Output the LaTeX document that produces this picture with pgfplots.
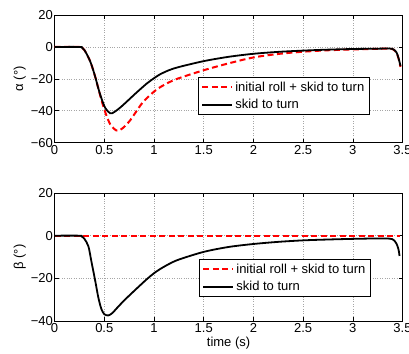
\documentclass[border=0pt]{standalone}
\usepackage{pgfplots}
\pgfplotsset{compat=1.18}
\usepackage{fontspec}
\setmainfont{Liberation Sans}
\newcommand{\fs}{\fontsize{13bp}{15bp}\selectfont}
\pgfplotsset{
  mystyle/.style={
    width=347.9bp, height=127.7bp, scale only axis,
    xmin=0, xmax=3.5,
    xtick={0,0.5,1,1.5,2,2.5,3,3.5},
    xticklabels={0,0.5,1,1.5,2,2.5,3,3.5},
    tick align=inside,
    major tick length=4bp,
    grid=major,
    major grid style={dotted, line width=0.6bp, gray!70},
    axis line style={line width=0.8bp, black},
    tick style={black, line width=0.6bp},
    tick label style={font=\fs},
    label style={font=\fs},
    yticklabel style={inner xsep=1.5bp},
    xticklabel style={inner ysep=2.5bp},
    legend cell align=left,
    legend style={font=\fs, draw=black, line width=0.8bp, anchor=north west,
      row sep=2.5bp, inner xsep=3bp, inner ysep=2.5bp},
    legend image code/.code={\draw[#1] plot coordinates {(0bp,0bp) (30bp,0bp)};},
  },
  redd/.style={color=red, line width=2bp, dash pattern=on 6bp off 3.5bp},
  blk/.style={color=black, line width=1.8bp},
}
\begin{document}
\begin{tikzpicture}
\path[use as bounding box] (-54.6bp,-211.3bp) rectangle (354.4bp,142.7bp);
\begin{axis}[mystyle, at={(0bp,0bp)}, anchor=south west,
  ymin=-60, ymax=20, ytick={-60,-40,-20,0,20},
  yticklabels={−60,−40,−20,0,20},
  ylabel={α (°)},
  legend style={at={(0.412,0.514)}}]
\addplot[redd, smooth] coordinates {
(0,0)(0.25,0)(0.27,-0.3)(0.30,-2)(0.34,-6.5)(0.37,-11)(0.41,-19)(0.44,-26)(0.47,-33)(0.51,-41)(0.56,-48.5)(0.62,-52.3)(0.66,-52)(0.71,-49.5)(0.76,-46)(0.81,-41.5)(0.89,-34.5)(1.0,-28)(1.06,-25.3)(1.15,-22.2)(1.25,-19.6)(1.5,-14.6)(1.75,-10.3)(2.0,-6.6)(2.25,-4.4)(2.5,-3)(2.75,-2.1)(3.0,-1.6)(3.25,-1.2)(3.37,-1.1)(3.41,-1.7)(3.44,-3.7)(3.46,-7.2)(3.48,-12.5)};
\addlegendentry{initial roll + skid to turn}
\addplot[blk, smooth] coordinates {
(0,0)(0.25,0)(0.27,-0.3)(0.30,-2)(0.34,-6.5)(0.37,-11)(0.41,-19)(0.44,-26)(0.47,-32)(0.51,-38.3)(0.56,-41.6)(0.60,-40.8)(0.66,-38)(0.71,-35.2)(0.76,-32.3)(0.81,-29.4)(0.86,-26.6)(0.93,-22.8)(1.0,-19.6)(1.06,-17.2)(1.15,-14.6)(1.25,-12.6)(1.5,-8.9)(1.75,-6.2)(2.0,-4.3)(2.25,-3.1)(2.5,-2.3)(2.75,-1.7)(3.0,-1.3)(3.25,-1.1)(3.37,-1.0)(3.41,-1.6)(3.44,-3.5)(3.46,-7)(3.48,-12)};
\addlegendentry{skid to turn}
\end{axis}
\begin{axis}[mystyle, at={(0bp,-178.3bp)}, anchor=south west, height=128bp,
  ymin=-40, ymax=20, ytick={-40,-20,0,20},
  yticklabels={−40,−20,0,20},
  ylabel={β (°)}, xlabel={time (s)},
  xlabel style={inner ysep=1bp},
  legend style={at={(0.415,0.484)}}]
\addplot[redd] coordinates {(0,0)(1,0)(2,0)(3.47,0)};
\addlegendentry{initial roll + skid to turn}
\addplot[blk, smooth] coordinates {
(0,0)(0.25,0)(0.27,-0.3)(0.30,-1.5)(0.34,-5)(0.37,-12)(0.41,-21.5)(0.44,-29)(0.47,-34.3)(0.50,-36.8)(0.54,-37.4)(0.58,-36.3)(0.62,-34.3)(0.67,-31.8)(0.73,-29)(0.83,-24.6)(0.93,-20.3)(1.0,-17.6)(1.06,-15.7)(1.15,-13.3)(1.25,-11.2)(1.5,-7.6)(1.75,-5.3)(2.0,-3.9)(2.25,-2.9)(2.5,-2.2)(2.75,-1.8)(3.0,-1.5)(3.25,-1.3)(3.37,-1.4)(3.41,-2)(3.44,-3.8)(3.46,-6.5)(3.47,-9.5)};
\addlegendentry{skid to turn}
\end{axis}
\end{tikzpicture}
\end{document}
